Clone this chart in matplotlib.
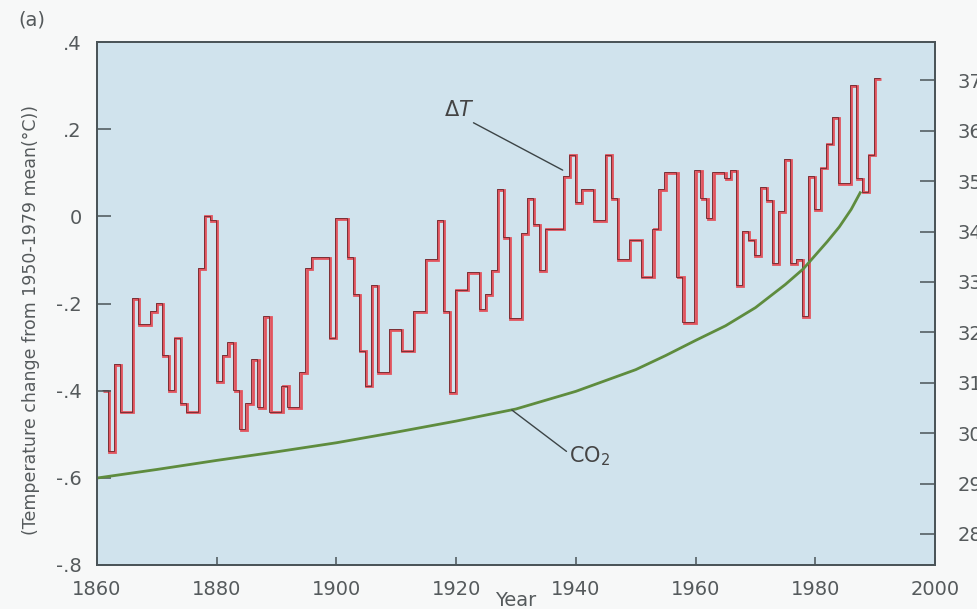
import numpy as np
import matplotlib.pyplot as plt
import matplotlib.transforms as mtransforms

# Annual temperature change (deg C, relative to 1950-1979 mean), starting 1861
start_year = 1861
dT = [-0.40, -0.54, -0.34, -0.45, -0.45, -0.19, -0.25, -0.25, -0.22, -0.20,
      -0.32, -0.40, -0.28, -0.43, -0.45, -0.45, -0.12, 0.00, -0.01, -0.38,
      -0.32, -0.29, -0.40, -0.49, -0.43, -0.33, -0.44, -0.23, -0.45, -0.45,
      -0.39, -0.44, -0.44, -0.36, -0.12, -0.095, -0.095, -0.095, -0.28, -0.005,
      -0.005, -0.095, -0.18, -0.31, -0.39, -0.16, -0.36, -0.36, -0.26, -0.26,
      -0.31, -0.31, -0.22, -0.22, -0.10, -0.10, -0.01, -0.22, -0.405, -0.17,
      -0.17, -0.13, -0.13, -0.215, -0.18, -0.125, 0.06, -0.05, -0.235, -0.235,
      -0.04, 0.04, -0.02, -0.125, -0.03, -0.03, -0.03, 0.09, 0.14, 0.03,
      0.06, 0.06, -0.01, -0.01, 0.14, 0.04, -0.10, -0.10, -0.055, -0.055,
      -0.14, -0.14, -0.03, 0.06, 0.10, 0.10, -0.14, -0.245, -0.245, 0.105,
      0.04, -0.005, 0.10, 0.10, 0.085, 0.105, -0.16, -0.035, -0.055, -0.09,
      0.065, 0.035, -0.11, 0.01, 0.13, -0.11, -0.10, -0.23, 0.09, 0.015,
      0.11, 0.165, 0.225, 0.075, 0.075, 0.30, 0.085, 0.055, 0.14, 0.315]

# CO2 concentration (ppm)
co2_year = [1860, 1870, 1880, 1890, 1900, 1910, 1920, 1930, 1940, 1950,
            1955, 1960, 1965, 1970, 1975, 1978, 1980, 1982, 1984, 1986, 1987.5]
co2_ppm = [291.1, 292.8, 294.6, 296.3, 298.1, 300.2, 302.4, 304.8, 308.3, 312.6,
           315.4, 318.4, 321.3, 324.9, 329.5, 332.6, 335.3, 338.0, 340.9, 344.4, 347.7]

x_ticks = [1860, 1880, 1900, 1920, 1940, 1960, 1980, 2000]
t_ticks = [-0.8, -0.6, -0.4, -0.2, 0, 0.2, 0.4]
t_labels = ['-.8', '-.6', '-.4', '-.2', '0', '.2', '.4']
co2_ticks = [280, 290, 300, 310, 320, 330, 340, 350, 360, 370]

text_col = '#555a5c'
frame_col = '#4a5458'

fig = plt.figure(figsize=(9.78, 6.09), dpi=100)
fig.patch.set_facecolor('#f7f8f8')
ax = fig.add_axes([97 / 978, 1 - 565 / 609, (935 - 97) / 978, (565 - 42) / 609])
ax.set_facecolor('#d0e3ed')

edges = np.arange(start_year, start_year + len(dT) + 1)
ax.stairs(dT, edges, baseline=None, color='#e2545e', lw=2.0)
shift = mtransforms.offset_copy(ax.transData, fig=fig, x=-1.2, y=0.8, units='dots')
ax.stairs(dT, edges, baseline=None, color='#7a3036', lw=0.7, transform=shift)

ax.set_xlim(1860, 2000)
ax.set_ylim(-0.8, 0.4)
ax.set_xticks(x_ticks)
ax.set_yticks(t_ticks)
ax.set_yticklabels(t_labels)
ax.tick_params(axis='y', direction='in', length=10, width=1.1, pad=11,
               labelsize=14, color=frame_col, labelcolor=text_col)
ax.tick_params(axis='x', direction='in', length=6, width=1.1, pad=11,
               labelsize=14, color=frame_col, labelcolor=text_col)
ax.set_xlabel('Year', fontsize=14, color=text_col, labelpad=-6)

ax2 = ax.twinx()
ax2.plot(co2_year, co2_ppm, color='#5e8c3e', lw=2)
ax2.set_ylim(273.85, 377.6)
ax2.set_yticks(co2_ticks)
ax2.tick_params(axis='y', direction='in', length=11, width=1.1, pad=16,
                labelsize=14, color=frame_col, labelcolor=text_col)

for a in (ax, ax2):
    for s in a.spines.values():
        s.set_color(frame_col)
        s.set_linewidth(1.3)

ax.annotate(r'$\Delta T$', xy=(1937.8, 0.106), xytext=(1920.5, 0.244),
            fontsize=15, color='#444', ha='center', va='center',
            arrowprops=dict(arrowstyle='-', color='#3c4446', lw=1,
                            shrinkA=0, shrinkB=0, relpos=(0.8, 0)))
ax2.annotate(r'CO$_2$', xy=(1929.3, 304.6), xytext=(1938.9, 295.5),
             fontsize=15, color='#444', ha='left', va='center',
             arrowprops=dict(arrowstyle='-', color='#3c4446', lw=1,
                             shrinkA=0, shrinkB=0, relpos=(0, 0.6)))

fig.text(0.032, 1 - 320 / 609, '(Temperature change from 1950-1979 mean(°C))',
         rotation=90, ha='center', va='center', fontsize=12.5, color=text_col)
fig.text(18 / 978, 1 - 20 / 609, '(a)', ha='left', va='center', fontsize=14, color=text_col)

fig.savefig('out.png', dpi=100, facecolor=fig.get_facecolor())
